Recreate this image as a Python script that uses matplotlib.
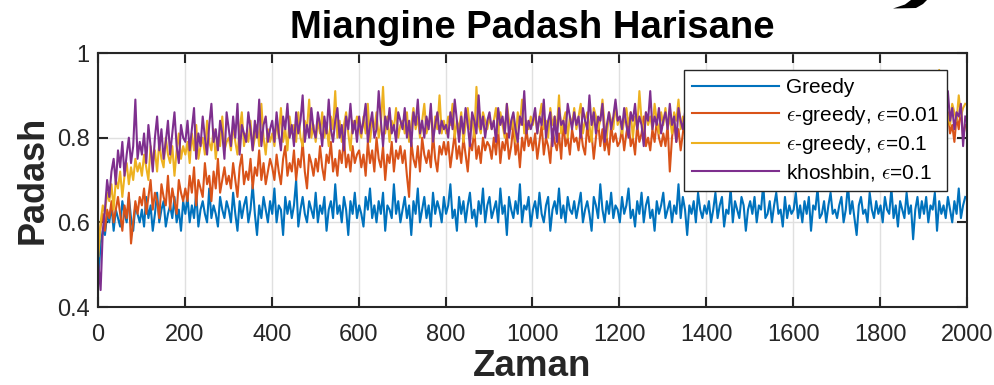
import numpy as np
import matplotlib
matplotlib.use("Agg")
import matplotlib.pyplot as plt
from matplotlib.patches import Polygon

plt.rcParams['font.family'] = ['Liberation Sans', 'DejaVu Sans']
plt.rcParams['mathtext.fontset'] = 'cm'

# Average reward per step (hundredths), one sample every 5 steps
greedy = [
    47, 55, 58, 57, 62, 60, 64, 58, 63, 61, 59, 65, 62, 60, 66, 61, 58, 64, 62, 60,
    63, 59, 66, 61, 64, 58, 62, 67, 60, 63, 65, 59, 62, 64, 61, 66, 60, 63, 58, 65,
    62, 66, 60, 64, 61, 67, 59, 63, 65, 62, 60, 68, 61, 64, 62, 59, 66, 63, 61, 65,
    63, 60, 67, 62, 58, 65, 61, 64, 66, 60, 63, 69, 62, 57, 64, 61, 66, 63, 60, 65,
    62, 68, 60, 64, 63, 57, 66, 62, 65, 61, 64, 70, 59, 63, 66, 62, 60, 65, 63, 61,
    67, 60, 64, 62, 66, 58, 63, 65, 61, 69, 62, 64, 60, 66, 63, 57, 65, 62, 67, 61,
    64, 62, 59, 66, 63, 68, 61, 64, 60, 65, 62, 67, 58, 64, 63, 61, 69, 62, 65, 60,
    63, 66, 61, 64, 57, 65, 62, 68, 60, 63, 66, 61, 64, 59, 67, 62, 65, 63, 60, 66,
    62, 64, 69, 61, 63, 58, 66, 62, 65, 60, 64, 67, 61, 63, 59, 65, 62, 68, 60, 64,
    66, 61, 63, 65, 60, 68, 62, 64, 57, 66, 63, 61, 65, 62, 69, 60, 64, 63, 66, 59,
    63, 65, 61, 67, 62, 60, 64, 66, 58, 63, 65, 62, 68, 61, 64, 60, 66, 63, 62, 65,
    61, 64, 67, 60, 63, 65, 62, 58, 66, 64, 61, 69, 63, 60, 65, 62, 67, 61, 64, 63,
    60, 66, 62, 64, 68, 61, 63, 59, 65, 62, 67, 60, 64, 66, 61, 63, 58, 65, 62, 64,
    67, 61, 63, 65, 60, 64, 62, 69, 61, 66, 63, 57, 64, 62, 65, 60, 67, 63, 61, 64,
    62, 65, 60, 63, 67, 61, 64, 66, 59, 63, 62, 68, 60, 65, 63, 61, 66, 64, 58, 63,
    65, 62, 66, 60, 64, 63, 69, 61, 62, 65, 60, 64, 67, 62, 63, 59, 66, 61, 64, 62,
    63, 67, 61, 64, 60, 65, 62, 66, 58, 64, 63, 68, 61, 62, 65, 60, 64, 67, 62, 63,
    61, 64, 66, 60, 63, 69, 62, 65, 61, 57, 64, 66, 62, 63, 60, 67, 63, 61, 65, 62,
    64, 60, 66, 63, 62, 68, 61, 64, 59, 65, 63, 61, 67, 62, 64, 56, 63, 66, 61, 65,
    62, 66, 60, 64, 63, 67, 58, 65, 62, 64, 61, 66, 63, 60, 65, 62, 68, 61, 64, 66,
]

eps_greedy_001 = [
    55, 59, 62, 58, 63, 61, 65, 60, 63, 66, 62, 58, 64, 61, 67, 55, 60, 65, 62, 66,
    64, 68, 62, 66, 70, 63, 67, 65, 61, 69, 66, 64, 71, 63, 68, 65, 62, 70, 67, 65,
    68, 65, 71, 67, 73, 64, 70, 68, 66, 74, 69, 71, 65, 72, 68, 75, 67, 70, 73, 69,
    71, 68, 74, 70, 66, 73, 76, 69, 72, 70, 75, 68, 73, 71, 77, 70, 74, 69, 72, 75,
    73, 70, 76, 72, 69, 75, 78, 71, 74, 72, 77, 70, 75, 73, 79, 72, 68, 76, 74, 71,
    75, 72, 78, 73, 70, 76, 74, 79, 72, 75, 71, 77, 74, 80, 73, 76, 72, 78, 74, 76,
    77, 73, 76, 71, 79, 74, 77, 72, 80, 75, 73, 78, 70, 76, 74, 79, 72, 77, 75, 78,
    74, 77, 71, 66, 79, 75, 73, 78, 72, 80, 76, 74, 77, 73, 81, 75, 72, 78, 76, 79,
    76, 79, 73, 77, 81, 75, 78, 74, 80, 76, 72, 79, 77, 82, 75, 78, 74, 80, 77, 79,
    78, 75, 80, 76, 82, 74, 79, 77, 81, 75, 78, 83, 76, 79, 73, 80, 77, 82, 78, 80,
    77, 81, 75, 79, 83, 76, 80, 78, 74, 82, 79, 77, 81, 75, 84, 78, 80, 76, 82, 79,
    80, 77, 82, 78, 76, 83, 79, 81, 75, 80, 84, 78, 82, 77, 80, 76, 83, 79, 81, 78,
    79, 82, 77, 81, 84, 78, 80, 76, 83, 79, 81, 85, 78, 80, 77, 82, 79, 84, 80, 78,
    81, 78, 83, 72, 80, 84, 79, 82, 77, 81, 85, 79, 83, 78, 80, 76, 82, 84, 79, 81,
    80, 83, 78, 82, 85, 79, 81, 77, 84, 80, 82, 79, 86, 81, 78, 83, 80, 85, 79, 82,
    82, 79, 84, 80, 77, 83, 81, 86, 79, 82, 80, 84, 78, 83, 81, 85, 80, 82, 79, 84,
    81, 84, 79, 83, 86, 80, 82, 78, 85, 81, 83, 80, 86, 82, 79, 84, 81, 87, 80, 83,
    83, 80, 85, 81, 84, 79, 86, 82, 80, 85, 83, 78, 84, 82, 87, 81, 83, 80, 85, 82,
    82, 85, 80, 84, 81, 87, 83, 79, 85, 82, 84, 80, 86, 83, 81, 85, 82, 88, 80, 84,
    84, 81, 86, 82, 79, 85, 83, 87, 80, 84, 82, 86, 81, 83, 79, 85, 82, 87, 80, 83,
]

eps_greedy_01 = [
    52, 60, 64, 62, 67, 65, 69, 63, 70, 68, 72, 66, 71, 74, 69, 73, 70, 75, 72, 74,
    71, 76, 73, 70, 78, 74, 77, 72, 79, 75, 73, 80, 76, 74, 78, 71, 77, 81, 75, 78,
    76, 79, 74, 81, 77, 83, 75, 78, 80, 76, 84, 79, 77, 82, 75, 80, 78, 85, 77, 79,
    80, 77, 83, 79, 76, 82, 86, 78, 81, 79, 84, 77, 80, 83, 78, 88, 80, 76, 82, 79,
    81, 78, 84, 80, 87, 79, 82, 77, 85, 81, 83, 79, 86, 80, 78, 84, 82, 89, 80, 83,
    79, 84, 81, 86, 80, 83, 78, 85, 82, 91, 80, 84, 79, 83, 86, 81, 77, 84, 82, 85,
    82, 80, 85, 81, 88, 79, 84, 82, 86, 80, 83, 92, 81, 85, 79, 84, 82, 87, 80, 83,
    84, 81, 86, 79, 83, 87, 82, 85, 80, 84, 88, 81, 83, 86, 79, 85, 82, 90, 81, 84,
    81, 85, 83, 88, 80, 84, 82, 86, 79, 83, 87, 82, 85, 80, 92, 83, 81, 86, 84, 82,
    85, 82, 84, 87, 81, 86, 83, 80, 88, 84, 82, 85, 79, 86, 83, 89, 81, 84, 82, 85,
    83, 86, 81, 85, 88, 82, 84, 80, 87, 83, 85, 82, 90, 81, 84, 86, 80, 85, 83, 87,
    82, 85, 88, 81, 84, 86, 83, 79, 87, 85, 82, 84, 89, 83, 80, 86, 84, 82, 88, 83,
    85, 81, 84, 87, 83, 86, 80, 85, 82, 91, 84, 81, 86, 83, 85, 82, 88, 84, 81, 86,
    83, 87, 82, 85, 81, 86, 84, 89, 82, 85, 83, 80, 87, 84, 86, 82, 85, 90, 83, 84,
    86, 82, 85, 83, 88, 81, 84, 87, 83, 85, 82, 86, 84, 91, 83, 81, 86, 84, 88, 82,
    84, 87, 83, 86, 82, 85, 89, 84, 81, 86, 84, 88, 83, 85, 82, 87, 84, 86, 83, 89,
    85, 83, 87, 84, 86, 82, 88, 85, 83, 87, 84, 81, 86, 90, 84, 85, 83, 88, 82, 86,
    87, 84, 85, 88, 83, 86, 84, 90, 85, 82, 87, 84, 86, 83, 89, 85, 84, 87, 83, 86,
    84, 88, 86, 83, 87, 85, 89, 84, 86, 82, 88, 85, 87, 84, 86, 92, 85, 83, 88, 86,
    86, 84, 88, 85, 83, 87, 85, 96, 84, 86, 89, 85, 83, 88, 86, 84, 90, 85, 87, 88,
]

khoshbin = [
    50, 44, 58, 63, 70, 66, 72, 75, 69, 77, 73, 79, 71, 76, 80, 74, 78, 89, 75, 79,
    76, 81, 74, 83, 78, 72, 80, 85, 77, 82, 75, 79, 84, 76, 81, 86, 78, 74, 83, 80,
    79, 84, 77, 82, 87, 75, 81, 78, 85, 80, 76, 83, 88, 79, 82, 77, 84, 81, 75, 86,
    82, 78, 85, 80, 88, 76, 83, 81, 79, 86, 82, 77, 84, 80, 89, 78, 83, 85, 79, 82,
    84, 79, 86, 81, 77, 85, 82, 88, 80, 83, 78, 86, 81, 84, 90, 79, 83, 80, 87, 82,
    80, 86, 83, 78, 85, 81, 89, 82, 79, 84, 87, 80, 83, 77, 85, 82, 88, 81, 84, 79,
    85, 81, 84, 88, 79, 83, 86, 80, 82, 91, 84, 78, 85, 82, 87, 81, 83, 79, 86, 84,
    82, 87, 80, 84, 78, 86, 83, 89, 81, 84, 80, 85, 82, 88, 79, 83, 86, 81, 84, 82,
    83, 80, 86, 82, 89, 84, 79, 85, 81, 87, 83, 78, 86, 84, 81, 90, 82, 85, 80, 84,
    86, 82, 84, 79, 87, 83, 85, 81, 88, 80, 84, 86, 82, 79, 85, 83, 91, 81, 84, 82,
    84, 87, 81, 85, 83, 89, 80, 84, 86, 78, 85, 79, 87, 83, 84, 81, 88, 85, 82, 86,
    83, 85, 80, 87, 84, 82, 90, 83, 86, 81, 85, 84, 88, 79, 83, 86, 82, 85, 89, 84,
    85, 82, 87, 83, 80, 86, 84, 88, 82, 85, 83, 78, 86, 84, 91, 82, 85, 83, 87, 81,
    84, 86, 82, 88, 83, 85, 79, 87, 84, 82, 86, 89, 83, 85, 81, 84, 87, 82, 85, 83,
    86, 83, 85, 81, 88, 84, 86, 82, 90, 85, 83, 87, 79, 84, 86, 83, 88, 85, 82, 86,
    84, 87, 83, 85, 89, 82, 86, 84, 80, 87, 85, 83, 88, 84, 86, 79, 85, 87, 83, 86,
    85, 82, 88, 84, 86, 83, 87, 80, 85, 89, 84, 86, 82, 87, 85, 83, 90, 84, 86, 82,
    87, 84, 86, 83, 88, 85, 80, 86, 84, 89, 83, 87, 85, 82, 86, 88, 84, 85, 79, 87,
    85, 88, 83, 86, 84, 90, 82, 85, 87, 83, 86, 78, 88, 81, 85, 87, 84, 86, 83, 88,
    86, 83, 87, 85, 82, 89, 84, 86, 88, 83, 85, 91, 84, 87, 82, 86, 85, 88, 78, 85,
]

series = [
    ("Greedy", greedy, "#0072BD"),
    (r"$\epsilon$-greedy, $\epsilon$=0.01", eps_greedy_001, "#D95319"),
    (r"$\epsilon$-greedy, $\epsilon$=0.1", eps_greedy_01, "#EDB120"),
    (r"khoshbin, $\epsilon$=0.1", khoshbin, "#7E2F8E"),
]

x_ticks = list(range(0, 2001, 200))
y_ticks = [0.4, 0.6, 0.8, 1.0]
y_tick_labels = ["0.4", "0.6", "0.8", "1"]

W, H = 995, 385
fig = plt.figure(figsize=(W / 100, H / 100), dpi=100)
ax = fig.add_axes([98 / W, 1 - 307 / H, (967 - 98) / W, (307 - 53) / H])

for label, vals, color in series:
    v = np.asarray(vals, dtype=float) / 100.0
    t = 1 + 5 * np.arange(len(v))
    ax.plot(t, v, color=color, lw=1.5, label=label)

ax.set_xlim(0, 2000)
ax.set_ylim(0.4, 1.0)
ax.set_xticks(x_ticks)
ax.set_yticks(y_ticks)
ax.set_yticklabels(y_tick_labels)

ax.set_axisbelow(True)
ax.grid(True, color="#e0e0e0", lw=1.0)
for s in ax.spines.values():
    s.set_color("#262626")
    s.set_linewidth(1.5)
ax.tick_params(direction="in", length=7, width=1.5, color="#262626",
               labelcolor="#262626", labelsize=17, top=True, right=True)
ax.tick_params(axis="x", pad=12)
ax.tick_params(axis="y", pad=6)

ax.set_title("Miangine Padash Harisane", fontsize=27.5, fontweight="bold",
             color="black", pad=11)
ax.set_ylabel("Padash", fontsize=26, fontweight="bold", color="#262626")
ax.yaxis.set_label_coords(-0.055, 0.5)
ax.set_xlabel("Zaman", fontsize=26.5, fontweight="bold", color="#262626")
ax.xaxis.set_label_coords(0.4994, -0.166)

leg = ax.legend(loc="upper right", bbox_to_anchor=(947 / W, 1 - 70 / H),
                bbox_transform=fig.transFigure, borderaxespad=0,
                fontsize=15, handlelength=4.2, handletextpad=0.3,
                labelspacing=0.3, borderpad=0.4, fancybox=False,
                framealpha=1, edgecolor="#262626")
leg.get_frame().set_linewidth(1.0)

# small dark mark at the top right edge
mark = [(927, 0), (923, 4), (916, 8), (893, 8.5), (905, 4.5), (911, 0)]
fig.add_artist(Polygon([(x / W, 1 - y / H) for x, y in mark], closed=True,
                       transform=fig.transFigure, color="black", lw=0))

fig.savefig("out.png", dpi=100)
